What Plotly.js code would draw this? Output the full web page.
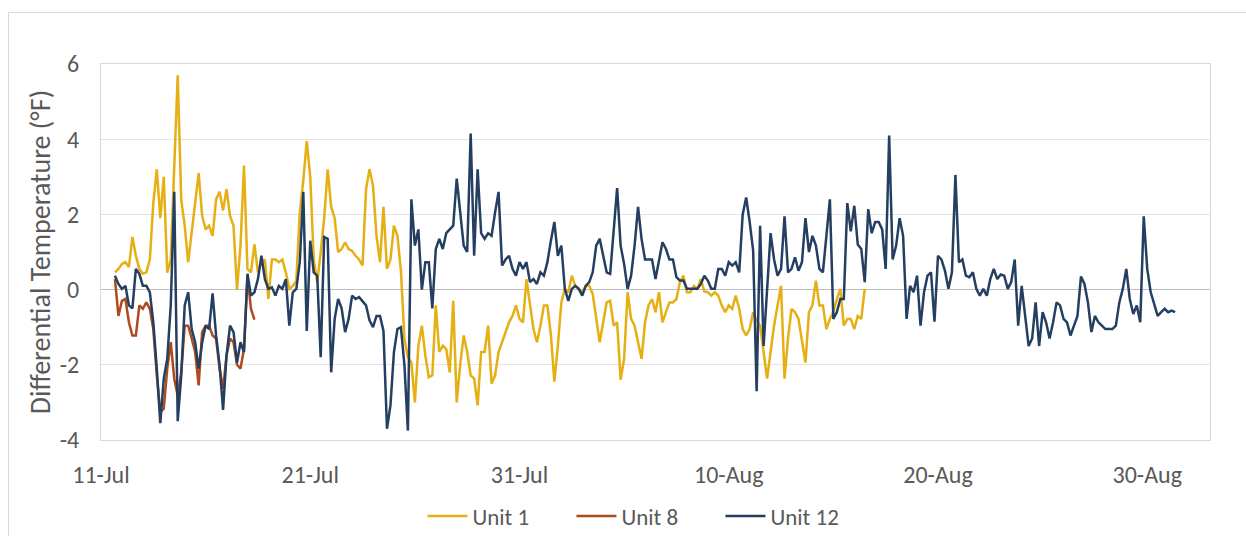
<!DOCTYPE html>
<html>
<head>
<meta charset="utf-8">
<script src="https://cdn.plot.ly/plotly-3.0.1.min.js"></script>
<style>
  html, body { margin: 0; padding: 0; background: #ffffff; }
  #wrap { position: relative; width: 1246px; height: 536px; overflow: hidden; }
  #frame { position: absolute; left: 8px; top: 12px; width: 1400px; height: 700px; border: 1px solid #d9d9d9; box-sizing: border-box; pointer-events: none; }
  #chart { position: absolute; left: 0; top: 0; width: 1246px; height: 536px; }
</style>
</head>
<body>
<div id="wrap">
  <div id="frame"></div>
  <div id="chart"></div>
</div>
<script>
// Readings every 4 hours starting 11-Jul 16:00
const seriesStart = "2019-07-11 16:00";
const stepHours = 4;

const seriesNames = ["Unit 1", "Unit 8", "Unit 12"];
const seriesColors = ["#E6AF14", "#AE4A1E", "#243F62"];

const unit1 = [
  0.46, 0.55, 0.68, 0.73, 0.6, 1.4, 0.9, 0.55, 0.42, 0.46,
  0.8, 2.3, 3.2, 1.9, 3.0, 0.45, 0.8, 3.45, 5.7, 2.4,
  1.7, 0.73, 1.5, 2.3, 3.1, 1.96, 1.6, 1.7, 1.43, 2.4,
  2.6, 2.1, 2.67, 1.96, 1.7, 0.0, 1.17, 3.3, 0.55, 0.46,
  1.2, 0.46, 0.73, 0.8, -0.25, 0.8, 0.8, 0.73, 0.8, 0.46,
  0.02, 0.1, 0.24, 2.05, 2.9, 3.95, 3.0, 0.8, 0.2, 1.0,
  1.9, 3.2, 2.2, 1.9, 1.0, 1.08, 1.26, 1.08, 1.03, 0.9,
  0.8, 0.64, 2.67, 3.2, 2.76, 1.43, 0.73, 2.2, 0.55, 0.8,
  1.7, 1.43, 0.5, -1.3, -1.8, -1.94, -3.0, -1.5, -0.96, -1.75,
  -2.33, -2.28, -0.42, -1.66, -1.49, -1.58, -2.2, -0.3, -3.0, -2.0,
  -1.22, -1.66, -2.28, -2.37, -3.08, -1.66, -1.66, -0.96, -2.5, -2.28,
  -1.66, -1.4, -1.13, -0.87, -0.7, -0.42, -0.78, -0.87, 0.28, -0.34,
  -1.05, -1.4, -0.96, -0.42, -0.42, -1.2, -2.45, -1.5, -0.34, 0.02,
  -0.07, 0.37, 0.1, 0.02, -0.07, 0.1, 0.1, -0.12, -0.78, -1.4,
  -0.87, -0.34, -0.3, -0.96, -0.87, -2.4, -1.84, -0.07, -0.78, -0.96,
  -1.4, -1.84, -0.87, -0.42, -0.25, -0.6, -0.07, -0.87, -0.6, -0.34,
  -0.34, -0.25, 0.2, 0.37, -0.07, -0.07, 0.1, 0.02, 0.28, -0.05,
  -0.07, -0.16, -0.07, -0.16, -0.42, -0.6, -0.42, -0.51, -0.16, -0.51,
  -1.05, -1.22, -1.05, -0.6, -0.82, -0.96, -1.66, -2.37, -1.66, -0.96,
  -0.42, 0.1, -2.37, -1.3, -0.51, -0.6, -0.78, -1.4, -1.94, -0.6,
  -0.42, 0.24, -0.42, -0.42, -1.05, -0.78, -0.6, -0.25, 0.02, -0.96,
  -0.78, -0.78, -1.05, -0.7, -0.78, 0.02
];

const unit8 = [
  0.28, -0.7, -0.3, -0.25, -0.87, -1.22, -1.22, -0.42, -0.51, -0.34,
  -0.51, -1.05, -2.28, -3.26, -3.17, -2.1, -1.4, -2.37, -2.82, -2.2,
  -0.96, -0.96, -1.3, -1.66, -2.55, -1.13, -0.96, -0.96, -1.22, -1.3,
  -2.1, -2.64, -1.75, -1.3, -1.4, -2.0, -2.1, -1.58, 0.37, -0.51,
  -0.8
];

const unit12 = [
  0.37, 0.15, 0.02, 0.1, -0.42, -0.5, 0.55, 0.42, 0.1, 0.1,
  -0.07, -0.87, -2.1, -3.55, -2.37, -1.84, -0.42, 2.6, -3.5, -2.3,
  -0.42, -0.07, -1.05, -1.4, -2.1, -1.4, -0.96, -1.05, -0.1, -1.22,
  -2.0, -3.2, -1.75, -0.96, -1.13, -1.94, -1.4, -1.66, 0.42, -0.16,
  -0.07, 0.28, 0.9, 0.28, 0.02, 0.06, -0.16, 0.1, 0.02, 0.28,
  -0.96, -0.07, 0.02, 0.73, 2.6, -1.1, 1.3, 0.46, 0.37, -1.8,
  1.4, 1.35, -2.2, -0.78, -0.25, -0.5, -1.13, -0.78, -0.16, -0.25,
  -0.2, -0.3, -0.42, -0.82, -1.0, -0.7, -0.7, -1.1, -3.7, -3.08,
  -1.66, -1.05, -1.0, -2.0, -3.75, 2.4, 1.17, 1.6, 0.0, 0.73,
  0.73, -0.5, 1.08, 1.35, 1.08, 1.5, 1.6, 1.7, 2.95, 2.0,
  1.17, 1.0, 4.15, 0.9, 3.2, 1.5, 1.35, 1.5, 1.43, 2.05,
  2.6, 0.64, 0.8, 0.9, 0.55, 0.37, 0.73, 0.55, 0.73, 0.2,
  0.28, 0.15, 0.46, 0.37, 0.73, 1.3, 1.8, 0.9, 1.17, 0.02,
  -0.3, 0.02, 0.1, 0.02, -0.16, 0.1, 0.2, 0.46, 1.17, 1.35,
  0.9, 0.46, 0.42, 1.5, 2.7, 1.17, 0.68, 0.02, 0.37, 1.17,
  2.2, 1.35, 0.8, 0.8, 0.8, 0.28, 0.8, 1.26, 1.08, 0.8,
  0.8, 0.33, 0.24, 0.24, 0.02, 0.02, 0.02, 0.02, 0.15, 0.37,
  0.24, 0.02, 0.02, 0.55, 0.55, 0.37, 0.73, 0.64, 0.73, 0.46,
  2.0, 2.45, 1.8, 1.04, -2.7, 1.7, -1.5, -0.07, 1.5, 0.8,
  0.37, 0.55, 1.95, 0.46, 0.55, 0.86, 0.5, 0.73, 1.9, 1.0,
  1.43, 1.17, 0.55, 0.46, 1.35, 2.4, -0.78, -0.6, -0.25, -0.25,
  2.3, 1.55, 2.23, 1.2, 1.08, 0.2, 2.14, 1.5, 1.8, 1.8,
  1.6, 0.55, 4.1, 0.8, 1.17, 1.9, 1.43, -0.78, 0.1, -0.07,
  0.37, -0.96, -0.07, 0.37, 0.46, -0.85, 0.9, 0.8, 0.5, 0.02,
  0.46, 3.05, 0.73, 0.8, 0.37, 0.33, 0.46, 0.02, -0.16, 0.02,
  -0.16, 0.28, 0.55, 0.28, 0.4, 0.37, 0.02, 0.2, 0.8, -0.96,
  0.1, -0.78, -1.5, -1.3, -0.34, -1.5, -0.6, -0.87, -1.3, -0.87,
  -0.34, -0.42, -0.78, -0.87, -1.22, -0.96, -0.7, 0.35, 0.15, -0.34,
  -1.13, -0.7, -0.87, -0.96, -1.05, -1.05, -1.05, -0.96, -0.34, 0.02,
  0.55, -0.25, -0.65, -0.42, -0.87, 1.95, 0.55, -0.07, -0.42, -0.7,
  -0.6, -0.51, -0.6, -0.56, -0.6
];

const xTickStart = "2019-07-11";
const xRange = ["2019-07-11", "2019-09-02"];
const yTickValues = [-4, -2, 0, 2, 4, 6];
const yTickLabels = ["-4", "-2", "0", "2", "4", "6"];
const yRange = [-4, 6];

function timeAxis(n) {
  const p = seriesStart.split(/[- :]/).map(Number);
  const t0 = Date.UTC(p[0], p[1] - 1, p[2], p[3], p[4]);
  const out = [];
  for (let i = 0; i < n; i++) {
    out.push(new Date(t0 + i * stepHours * 3600000).toISOString().slice(0, 19).replace("T", " "));
  }
  return out;
}

const allSeries = [unit1, unit8, unit12];
const traces = allSeries.map((vals, k) => ({
  type: "scatter",
  mode: "lines",
  name: seriesNames[k],
  x: timeAxis(vals.length),
  y: vals,
  line: { color: seriesColors[k], width: 2.5 }
}));

const fontFam = "Carlito, Lato, 'Liberation Sans', sans-serif";
const layout = {
  width: 1246,
  height: 536,
  margin: { l: 101, r: 36, t: 64, b: 96, autoexpand: false },
  paper_bgcolor: "rgba(0,0,0,0)",
  plot_bgcolor: "#ffffff",
  font: { family: fontFam, color: "#595959", size: 24 },
  showlegend: true,
  legend: {
    orientation: "h",
    x: 0.4914, xanchor: "center",
    y: -0.202, yanchor: "middle",
    font: { size: 23, color: "#595959", family: fontFam },
    entrywidth: 94,
    entrywidthmode: "pixels",
    itemwidth: 40
  },
  xaxis: {
    type: "date",
    range: xRange,
    tick0: xTickStart,
    dtick: 10 * 86400000,
    tickformat: "%-d-%b",
    showgrid: false,
    showline: true,
    mirror: true,
    linecolor: "#d9d9d9",
    linewidth: 1,
    ticks: "",
    ticklabelstandoff: 13,
    tickfont: { size: 24, color: "#595959" },
    zeroline: false
  },
  yaxis: {
    range: yRange,
    tickmode: "array",
    tickvals: yTickValues,
    ticktext: yTickLabels,
    showgrid: true,
    gridcolor: "#e3e3e3",
    gridwidth: 1,
    zeroline: true,
    zerolinecolor: "#bfbfbf",
    zerolinewidth: 1.5,
    showline: true,
    mirror: true,
    linecolor: "#d9d9d9",
    linewidth: 1,
    ticks: "",
    ticklabelstandoff: 16,
    tickfont: { size: 24, color: "#595959" },
    title: { text: "Differential Temperature (°F)", font: { size: 28, color: "#595959" }, standoff: 0 }
  }
};

Plotly.newPlot("chart", traces, layout, { displayModeBar: false, staticPlot: true });
</script>
</body>
</html>
